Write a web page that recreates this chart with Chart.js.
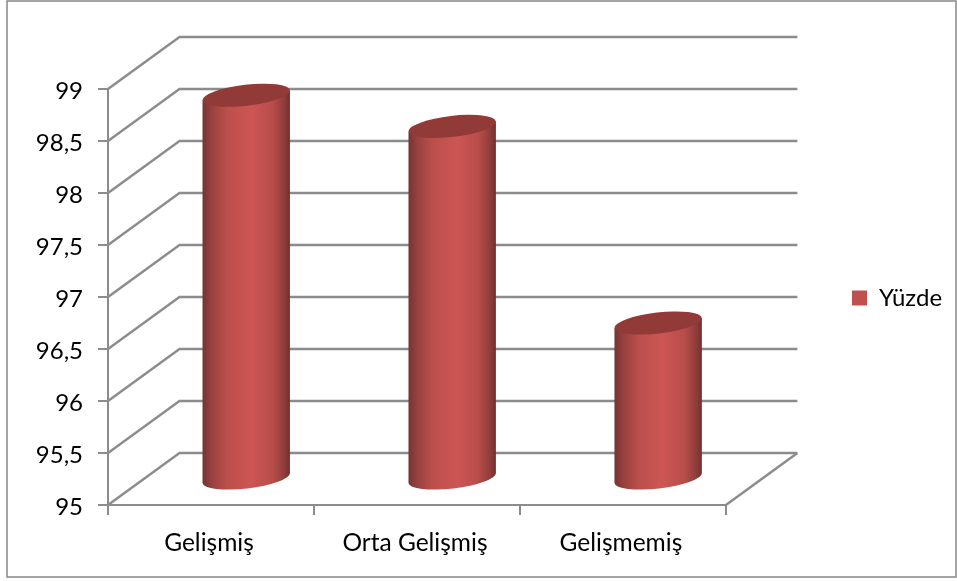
<!DOCTYPE html>
<html lang="tr">
<head>
<meta charset="utf-8">
<style>html,body{margin:0;padding:0;background:#fff;overflow:hidden}canvas{display:block}</style>
<script src="https://cdn.jsdelivr.net/npm/chart.js@4"></script>
</head>
<body>
<canvas id="c" width="957" height="581"></canvas>
<script>
const categories = ['Gelişmiş', 'Orta Gelişmiş', 'Gelişmemiş'];
const seriesName = 'Yüzde';
const seriesValues = [98.69, 98.39, 96.5];
const axisMinimum = 95;
const yTickLabels = ['95', '95,5', '96', '96,5', '97', '97,5', '98', '98,5', '99'];

const GRID = '#8c8c8c';
const DX = 71.5, DY = 52;
const FONT = 'Lato';

const scene = {
  id: 'scene',
  beforeDraw(chart) {
    const c = chart.ctx;
    c.save();
    c.fillStyle = '#fff';
    c.fillRect(0, 0, chart.width, chart.height);
    c.strokeStyle = '#868686';
    c.lineWidth = 1.5;
    c.strokeRect(7, 1, 949, 576);
    c.restore();
  },
  afterLayout(chart) {
    const lg = chart.legend;
    const w = lg.right - lg.left;
    lg.left = 842; lg.right = 842 + w;
    lg.top -= 37; lg.bottom -= 37;
  },
  beforeDatasetsDraw(chart) {
    const c = chart.ctx, y = chart.scales.y, x = chart.scales.x;
    c.save();
    c.strokeStyle = GRID;
    c.lineWidth = 2.4;
    c.lineJoin = 'miter';
    y.ticks.forEach((t) => {
      const p = y.getPixelForValue(t.value);
      c.beginPath();
      c.moveTo(x.left, p);
      c.lineTo(x.left + DX, p - DY);
      c.lineTo(x.right + DX, p - DY);
      c.stroke();
    });
    const b = y.getPixelForValue(y.min);
    c.beginPath();
    c.moveTo(x.right, b);
    c.lineTo(x.right + DX, b - DY);
    c.stroke();
    c.restore();
  },
  beforeDatasetDraw(chart, args) {
    const c = chart.ctx;
    const rot = -6.6 * Math.PI / 180;
    const meta = chart.getDatasetMeta(args.index);
    meta.data.forEach((el) => {
      const cx = el.x + DX / 2 - 0.5;
      const a = el.width / 2, b = 10.5;
      const topY = el.y - DY / 2, baseY = el.base - DY / 2;
      const ex = a * Math.cos(rot), ey = a * Math.sin(rot);
      const g = c.createLinearGradient(cx - a, 0, cx + a, 0);
      g.addColorStop(0, '#743331');
      g.addColorStop(0.1, '#96413f');
      g.addColorStop(0.28, '#bb4f4c');
      g.addColorStop(0.55, '#cd5653');
      g.addColorStop(0.8, '#b84d4a');
      g.addColorStop(0.93, '#8f3d3b');
      g.addColorStop(1, '#6f302e');
      c.save();
      c.beginPath();
      c.moveTo(cx - ex, topY - ey);
      c.ellipse(cx, baseY, a, b, rot, Math.PI, 0, true);
      c.lineTo(cx + ex, topY + ey);
      c.closePath();
      c.fillStyle = g;
      c.fill();
      c.beginPath();
      c.ellipse(cx, topY, a, b, rot, 0, Math.PI * 2);
      c.fillStyle = '#913a38';
      c.fill();
      c.restore();
    });
    return false;
  }
};

new Chart(document.getElementById('c'), {
  type: 'bar',
  data: {
    labels: categories,
    datasets: [{
      label: seriesName,
      data: seriesValues,
      base: axisMinimum,
      backgroundColor: '#c0504d',
      barPercentage: 0.4272,
      categoryPercentage: 1
    }]
  },
  plugins: [scene],
  options: {
    responsive: false,
    animation: false,
    layout: { padding: { top: 89, right: 121, left: 0, bottom: 0 } },
    plugins: {
      tooltip: { enabled: false },
      legend: {
        position: 'right',
        labels: {
          boxWidth: 15, boxHeight: 15, padding: 10,
          color: '#000',
          font: { family: FONT, size: 24 }
        }
      }
    },
    scales: {
      x: {
        afterFit(s) { s.height = 76; },
        grid: { drawOnChartArea: false, color: GRID, lineWidth: 2, tickLength: 10 },
        border: { color: GRID, width: 2 },
        ticks: { color: '#000', padding: 13, labelOffset: -2, maxRotation: 0, font: { family: FONT, size: 24.5 } }
      },
      y: {
        min: axisMinimum, max: 99,
        afterFit(s) { s.width = 108; },
        grid: { drawOnChartArea: false, color: GRID, lineWidth: 2, tickLength: 10 },
        border: { color: GRID, width: 2 },
        ticks: {
          stepSize: 0.5, color: '#000', padding: 15, labelOffset: 2,
          font: { family: FONT, size: 24 },
          callback: (v, i) => yTickLabels[i]
        }
      }
    }
  }
});
</script>
</body>
</html>
